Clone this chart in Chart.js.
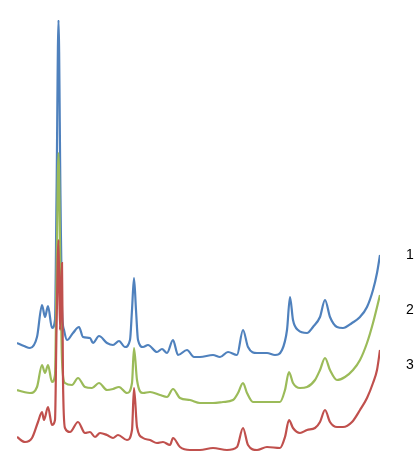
<!DOCTYPE html>
<html>
<head>
<meta charset="utf-8">
<script src="https://cdn.jsdelivr.net/npm/chart.js@4"></script>
<style>
  body { margin: 0; background: #fff; }
  #wrap { width: 416px; height: 466px; }
</style>
</head>
<body>
<div id="wrap"><canvas id="canvas"></canvas></div>
<script>
// 2-theta (deg) and intensity (a.u., already offset)
var blueX = [5.0, 6.4, 7.6, 9.0, 10.0, 10.6, 11.2, 12.0, 12.6, 12.9, 13.3, 13.7, 14.0, 14.4, 15.0, 16.2, 17.4, 18.2, 19.6, 20.2, 21.4, 23.0, 24.2, 25.4, 26.6, 27.6, 28.0, 28.4, 28.8, 29.2, 30.2, 31.2, 33.0, 34.0, 35.0, 36.2, 37.2, 39.0, 40.4, 41.6, 44.2, 45.6, 47.2, 49.0, 50.2, 51.2, 53.0, 55.0, 56.6, 58.0, 59.0, 59.6, 60.2, 61.2, 63.0, 64.2, 65.6, 66.6, 67.6, 69.0, 70.2, 72.0, 73.6, 75.0, 76.2, 77.0, 77.6];
var blueY = [117, 114, 112, 123, 155, 143, 154, 132, 140, 260, 440, 260, 150, 130, 120, 127, 133, 123, 122, 117, 124, 117, 115, 119, 113, 120, 150, 182, 150, 120, 113, 115, 108, 111, 107, 120, 105, 110, 103, 103, 105, 103, 108, 105, 130, 113, 107, 107, 105, 110, 130, 163, 140, 130, 127, 133, 143, 160, 143, 133, 132, 137, 143, 153, 170, 187, 205];

var greenX = [5.0, 6.4, 7.6, 9.0, 10.0, 10.6, 11.2, 12.0, 12.6, 12.9, 13.3, 13.7, 14.0, 14.6, 16.0, 17.2, 18.6, 20.0, 21.4, 23.0, 24.2, 25.4, 27.0, 28.0, 28.4, 29.0, 30.2, 31.6, 33.6, 35.0, 36.2, 37.6, 39.6, 41.6, 44.2, 46.2, 48.2, 49.2, 50.2, 51.0, 52.2, 55.0, 57.6, 58.6, 59.4, 60.2, 61.6, 63.0, 64.6, 65.6, 66.6, 67.6, 69.0, 70.6, 72.2, 73.6, 75.0, 76.2, 77.6];
var greenY = [70, 68, 67, 73, 95, 87, 95, 78, 85, 180, 307, 180, 100, 77, 75, 82, 73, 72, 77, 70, 71, 73, 67, 77, 112, 80, 67, 68, 65, 63, 71, 62, 60, 57, 57, 58, 60, 67, 77, 67, 58, 58, 58, 70, 88, 77, 72, 73, 80, 90, 102, 90, 80, 83, 90, 100, 117, 137, 165];

var redX = [5.0, 6.6, 8.0, 9.2, 10.0, 10.4, 11.2, 12.0, 12.6, 12.9, 13.3, 13.6, 13.8, 14.0, 14.2, 14.6, 15.6, 17.2, 18.6, 19.6, 20.6, 21.6, 23.0, 24.2, 25.2, 27.0, 28.0, 28.4, 29.0, 30.2, 31.6, 33.0, 34.2, 35.6, 36.2, 37.6, 39.6, 41.6, 44.2, 47.0, 49.0, 50.2, 51.2, 53.0, 55.0, 57.6, 58.6, 59.4, 60.2, 61.6, 63.0, 64.6, 65.6, 66.6, 67.6, 69.0, 70.2, 72.0, 73.6, 75.0, 76.2, 77.0, 77.6];
var redY = [23, 18, 22, 38, 48, 40, 53, 35, 40, 130, 220, 130, 170, 197, 80, 32, 28, 38, 27, 28, 23, 27, 25, 22, 25, 20, 30, 72, 33, 22, 20, 17, 18, 15, 22, 13, 10, 10, 12, 10, 13, 32, 15, 10, 13, 12, 23, 40, 32, 27, 30, 32, 38, 50, 38, 33, 33, 38, 50, 62, 77, 90, 110];

var curveNames = ["1", "2", "3"];
var labelX = 83.6;
var labelY = [205, 150, 95];

function pts(xs, ys) {
    return xs.map(function(x, i) { return { x: x, y: ys[i] }; });
}

var curveLabels = {
    id: 'curveLabels',
    afterDraw: function(chart) {
        var ctx = chart.ctx;
        var sx = chart.scales.x, sy = chart.scales.y;
        ctx.save();
        ctx.fillStyle = '#000';
        ctx.font = '14px "Liberation Sans", Arial, sans-serif';
        ctx.textAlign = 'center';
        ctx.textBaseline = 'middle';
        curveNames.forEach(function(n, i) {
            ctx.fillText(n, sx.getPixelForValue(labelX), sy.getPixelForValue(labelY[i]));
        });
        ctx.restore();
    }
};

var config = {
    type: 'line',
    data: {
        datasets: [
            { label: '3', data: pts(redX, redY), borderColor: '#C0504D', order: 0 },
            { label: '2', data: pts(greenX, greenY), borderColor: '#9BBB59', order: 1 },
            { label: '1', data: pts(blueX, blueY), borderColor: '#4F81BD', order: 2 }
        ]
    },
    options: {
        responsive: true,
        maintainAspectRatio: false,
        animation: false,
        layout: { padding: { left: 17, right: 36, top: 20, bottom: 6 } },
        elements: {
            line: { borderWidth: 2.2, cubicInterpolationMode: 'monotone' },
            point: { radius: 0 }
        },
        scales: {
            x: { type: 'linear', min: 5, max: 77.6, display: false },
            y: { min: 0, max: 440, display: false }
        },
        plugins: {
            legend: { display: false },
            tooltip: { enabled: false }
        }
    },
    plugins: [curveLabels]
};

var chart = new Chart(document.getElementById('canvas'), config);
</script>
</body>
</html>
